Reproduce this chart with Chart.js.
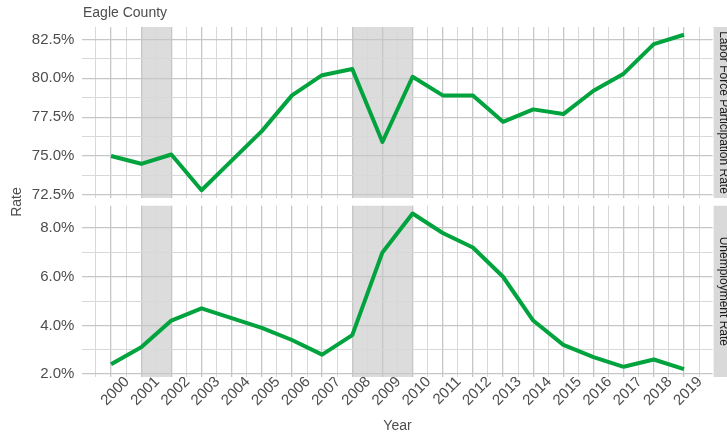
<!DOCTYPE html>
<html>
<head>
<meta charset="utf-8">
<script src="https://cdn.jsdelivr.net/npm/chart.js@4"></script>
<style>
    html, body { margin: 0; padding: 0; background: #ffffff; }
    #wrap { position: relative; width: 727px; height: 438px; overflow: hidden; }
    #wrap canvas { position: absolute; left: 0; top: 0; }
</style>
</head>
<body>
<div id="wrap">
    <canvas id="lfprChart" width="727" height="438"></canvas>
    <canvas id="urChart" width="727" height="438"></canvas>
</div>
<script>
const years = [2000, 2001, 2002, 2003, 2004, 2005, 2006, 2007, 2008, 2009,
               2010, 2011, 2012, 2013, 2014, 2015, 2016, 2017, 2018, 2019];
const lfprRate = [75.0, 74.5, 75.1, 72.8, 74.7, 76.6, 78.9, 80.2, 80.6, 75.9,
                  80.1, 78.9, 78.9, 77.2, 78.0, 77.7, 79.2, 80.3, 82.2, 82.8];
const unempRate = [2.4, 3.1, 4.2, 4.7, 4.3, 3.9, 3.4, 2.8, 3.6, 7.0,
                   8.6, 7.8, 7.2, 6.0, 4.2, 3.2, 2.7, 2.3, 2.6, 2.2];
const lfprTicks = [72.5, 75.0, 77.5, 80.0, 82.5];
const unempTicks = [2.0, 4.0, 6.0, 8.0];
const recessions = [[2001, 2002], [2008, 2010]];
const panelLabels = ["Labor Force Participation Rate", "Unemployment Rate"];

const LINE_COLOR = "#00a33d";
const TEXT_COLOR = "#4d4d4d";
const FONT = "'Liberation Sans', Arial, sans-serif";
const MAJOR_GRID = "#c6c6c6";
const MINOR_GRID = "#d8d8d8";

// ggplot style 5% expansion
function expand(values) {
    const lo = Math.min(...values), hi = Math.max(...values);
    const pad = (hi - lo) * 0.05;
    return [lo - pad, hi + pad];
}

// major ticks plus the midpoints between them (minor grid)
function withMinor(majors, lo, hi) {
    const step = majors[1] - majors[0];
    const out = [];
    for (let v = majors[0] - step / 2; v <= hi; v += step / 2) {
        if (v >= lo) out.push(+v.toFixed(4));
    }
    return out;
}

function isMajor(list, v) {
    return list.some(m => Math.abs(m - v) < 1e-6);
}

const xRange = expand(years);
const xTickValues = withMinor(years, xRange[0], xRange[1]);

const PANEL_LEFT = 82.4;
const PANEL_RIGHT_PAD = 727 - 712.6;

const recessionBands = {
    id: "recessionBands",
    beforeDraw(chart) {
        const { ctx, chartArea, scales } = chart;
        ctx.save();
        ctx.fillStyle = "#dcdcdc";
        recessions.forEach(([a, b]) => {
            const x1 = scales.x.getPixelForValue(a);
            const x2 = scales.x.getPixelForValue(b);
            ctx.fillRect(x1, chartArea.top, x2 - x1, chartArea.bottom - chartArea.top);
        });
        ctx.restore();
    }
};

const stripLabel = {
    id: "stripLabel",
    afterDraw(chart, args, opts) {
        const { ctx, chartArea } = chart;
        ctx.save();
        ctx.fillStyle = "#d9d9d9";
        ctx.fillRect(chartArea.right + 1, chartArea.top, 30, chartArea.bottom - chartArea.top);
        ctx.translate(719.5, (chartArea.top + chartArea.bottom) / 2);
        ctx.rotate(Math.PI / 2);
        ctx.fillStyle = "#1a1a1a";
        ctx.font = "12px " + FONT;
        ctx.textAlign = "center";
        ctx.textBaseline = "alphabetic";
        ctx.fillText(opts.text, 0, 0);
        ctx.restore();

        if (opts.title) {
            ctx.save();
            ctx.fillStyle = TEXT_COLOR;
            ctx.font = "14px " + FONT;
            ctx.textAlign = "left";
            ctx.textBaseline = "alphabetic";
            ctx.fillText(opts.title, 83, 17);
            ctx.restore();
        }
        if (opts.axisTitles) {
            ctx.save();
            ctx.fillStyle = TEXT_COLOR;
            ctx.font = "14px " + FONT;
            ctx.textAlign = "center";
            ctx.textBaseline = "middle";
            ctx.fillText("Year", (chartArea.left + chartArea.right) / 2, 426);
            ctx.translate(17, 202);
            ctx.rotate(-Math.PI / 2);
            ctx.fillText("Rate", 0, 0);
            ctx.restore();
        }
    }
};

function makePanel(canvasId, values, majors, padding, showX, stripOpts) {
    const yRange = expand(values);
    const yTickValues = withMinor(majors, yRange[0], yRange[1]);

    return new Chart(document.getElementById(canvasId), {
        type: "line",
        data: {
            datasets: [{
                data: years.map((yr, i) => ({ x: yr, y: values[i] })),
                borderColor: LINE_COLOR,
                borderWidth: 4,
                borderJoinStyle: "round",
                pointRadius: 0,
                tension: 0,
                fill: false
            }]
        },
        options: {
            responsive: false,
            animation: false,
            layout: { padding: padding },
            plugins: {
                legend: { display: false },
                tooltip: { enabled: false },
                stripLabel: stripOpts
            },
            scales: {
                x: {
                    type: "linear",
                    min: xRange[0],
                    max: xRange[1],
                    afterBuildTicks: axis => { axis.ticks = xTickValues.map(v => ({ value: v })); },
                    afterFit: axis => { axis.height = showX ? 61 : 0; },
                    border: { display: false },
                    grid: {
                        drawTicks: false,
                        color: c => isMajor(years, c.tick.value) ? MAJOR_GRID : MINOR_GRID,
                        lineWidth: c => isMajor(years, c.tick.value) ? 1.3 : 1
                    },
                    ticks: {
                        display: showX,
                        autoSkip: false,
                        minRotation: 45,
                        maxRotation: 45,
                        labelOffset: 16,
                        padding: -4,
                        color: TEXT_COLOR,
                        font: { family: FONT, size: 15 },
                        callback: v => isMajor(years, v) ? String(Math.round(v)) : ""
                    }
                },
                y: {
                    min: yRange[0],
                    max: yRange[1],
                    afterBuildTicks: axis => { axis.ticks = yTickValues.map(v => ({ value: v })); },
                    afterFit: axis => { axis.width = PANEL_LEFT; },
                    border: { display: false },
                    grid: {
                        drawTicks: false,
                        color: c => isMajor(majors, c.tick.value) ? MAJOR_GRID : MINOR_GRID,
                        lineWidth: c => isMajor(majors, c.tick.value) ? 1.3 : 1
                    },
                    ticks: {
                        autoSkip: false,
                        padding: 8,
                        color: TEXT_COLOR,
                        font: { family: FONT, size: 15 },
                        callback: v => isMajor(majors, v) ? v.toFixed(1) + "%" : ""
                    }
                }
            }
        },
        plugins: [recessionBands, stripLabel]
    });
}

makePanel("lfprChart", lfprRate, lfprTicks,
    { left: 0, top: 27, right: PANEL_RIGHT_PAD, bottom: 240 }, false,
    { text: panelLabels[0], title: "Eagle County" });

makePanel("urChart", unempRate, unempTicks,
    { left: 0, top: 205.7, right: PANEL_RIGHT_PAD, bottom: 0 }, true,
    { text: panelLabels[1], axisTitles: true });
</script>
</body>
</html>
